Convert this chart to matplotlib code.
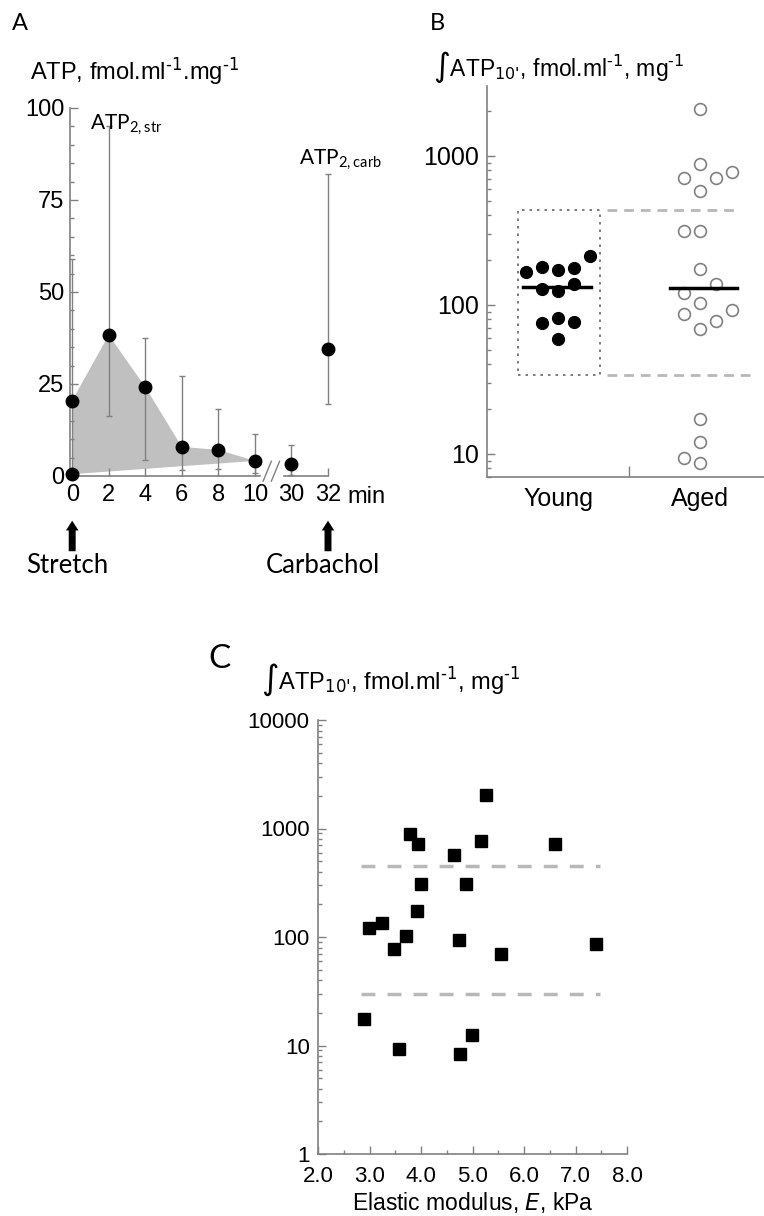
import matplotlib.pyplot as plt
import numpy as np
from matplotlib.ticker import MultipleLocator, FixedLocator, NullFormatter

plt.rcParams['font.family'] = ['Liberation Sans', 'DejaVu Sans']
plt.rcParams['mathtext.default'] = 'regular'

# panel A: ATP after stretch, time in min (axis broken between 10 and 30)
time_labels = ['0', '2', '4', '6', '8', '10', '30', '32']
time_pos = [0, 2, 4, 6, 8, 10, 12, 14]
atp_mean = [20.5, 38.3, 24.2, 7.9, 7.1, 4.1, 3.3, 34.5]
atp_upper = [59, 95, 37.5, 27.2, 18.2, 11.4, 8.4, 82]
atp_lower = [1.0, 16.3, 4.3, 1.6, 1.9, 0.8, 0.2, 19.6]
atp_baseline = 0.5   # value at t=0 before stretch

# panel B: integrated ATP, young vs aged
groups = ['Young', 'Aged']
young_vals = [166, 180, 172, 177, 213, 128, 124, 138, 76, 82, 77, 59]
young_slot = [-2, -1, 0, 1, 2, -1, 0, 1, -1, 0, 1, 0]
aged_vals = [2065, 883, 711, 711, 781, 582, 314, 314, 174, 138,
             120, 103, 87, 93, 78, 69, 17.2, 12.1, 9.4, 8.7]
aged_slot = [0, 0, -1, 1, 2, 0, -1, 0, 0, 1,
             -1, 0, -1, 2, 1, 0, 0, 0, -1, 0]
young_median = 132
aged_median = 130
young_hi, young_lo = 434, 34

# panel C: integrated ATP vs elastic modulus
modulus = [5.26, 3.79, 3.94, 5.17, 6.60, 4.64, 4.00, 4.87, 3.92, 2.99,
           3.24, 3.71, 3.48, 4.74, 5.55, 7.40, 2.89, 3.57, 4.76, 4.99]
atp_int = [2056, 899, 713, 775, 713, 575, 311, 311, 172, 122,
           136, 103, 78, 93, 70, 87, 17.4, 9.2, 8.4, 12.4]
c_hi, c_lo = 447, 30

W, H = 764, 1216
grey = '#808080'
fig = plt.figure(figsize=(W / 100, H / 100), dpi=100)


def px_axes(x0, y0, x1, y1):
    return fig.add_axes([x0 / W, 1 - y1 / H, (x1 - x0) / W, (y1 - y0) / H])


def style(ax, size):
    for s in ['top', 'right']:
        ax.spines[s].set_visible(False)
    for s in ['left', 'bottom']:
        ax.spines[s].set_color(grey)
        ax.spines[s].set_linewidth(1.2)
    ax.tick_params(which='both', direction='in', color=grey, width=1)
    ax.tick_params(which='major', length=6, labelsize=size, pad=6)
    ax.tick_params(which='minor', length=3)


int_title = "\u222bATP$_{\\text{10'}}$, fmol.ml$^{\\text{-1}}$, mg$^{\\text{-1}}$"

# ---------------- A ----------------
axA = px_axes(70, 108, 328, 476)
style(axA, 17)
axA.spines['bottom'].set_visible(False)
axA.set_xlim(-0.12, 14)
axA.set_ylim(0, 100)
axA.yaxis.set_major_locator(MultipleLocator(25))
axA.yaxis.set_minor_locator(MultipleLocator(5))
axA.xaxis.set_major_locator(FixedLocator(time_pos))
axA.set_xticklabels(time_labels)
axA.tick_params(axis='y', pad=4)

# shaded area under the first 10 min
poly_x = time_pos[:6] + [0]
poly_y = atp_mean[:6] + [atp_baseline]
axA.fill(poly_x, poly_y, color='#c0c0c0', lw=0, zorder=1)

yerr = [np.array(atp_mean) - np.array(atp_lower), np.array(atp_upper) - np.array(atp_mean)]
axA.errorbar(time_pos, atp_mean, yerr=yerr, fmt='none', ecolor=grey, elinewidth=1,
             capsize=2.5, capthick=1, zorder=2, clip_on=False)
axA.plot(time_pos, atp_mean, 'o', color='k', ms=9, zorder=3, clip_on=False)
axA.plot([0], [atp_baseline], 'o', color='k', ms=9, zorder=3, clip_on=False)

# broken x axis
axA.plot([-0.12, 10.3], [0, 0], color=grey, lw=1.2, clip_on=False)
axA.plot([11.6, 14], [0, 0], color=grey, lw=1.2, clip_on=False)
for x0 in (10.45, 10.9):
    axA.plot([x0, x0 + 0.45], [-1.4, 4], color=grey, lw=1, clip_on=False)

for tp in (time_pos[0], time_pos[-1]):
    axA.annotate('', xy=(tp, -11.4), xytext=(tp, -21.2), annotation_clip=False,
                 arrowprops=dict(arrowstyle='simple,head_length=0.7,head_width=0.9,tail_width=0.5',
                                 color='k', lw=0, mutation_scale=10))

axA.text(1.0, 98.8, r'ATP$_{2,str}$', fontsize=15, family='Lato', va='top')
axA.text(12.4, 82.5, r'ATP$_{2,carb}$', fontsize=15, family='Lato', va='bottom')

fig.text(12 / W, 1 - 30 / H, 'A', fontsize=17, family='Lato')
fig.text(30 / W, 1 - 80 / H, r'ATP, fmol.ml$^{\text{-1}}$.mg$^{\text{-1}}$', fontsize=17)
fig.text(347 / W, 1 - 503 / H, 'min', fontsize=17)
fig.text(26 / W, 1 - 573 / H, 'Stretch', fontsize=18.5, family='Lato')
fig.text(266 / W, 1 - 573 / H, 'Carbachol', fontsize=18.5, family='Lato')

# ---------------- B ----------------
axB = px_axes(487, 86, 764, 477)
style(axB, 18)
axB.set_yscale('log')
axB.set_ylim(7, 2950)
axB.set_xlim(0, 277 / 142)
axB.set_yticks([10, 100, 1000], labels=['10', '100', '1000'])
axB.yaxis.set_minor_locator(FixedLocator(
    [d * m for d in (1, 10, 100, 1000) for m in range(2, 10)]))
axB.yaxis.set_minor_formatter(NullFormatter())
axB.set_xticks([1])
axB.set_xticklabels([''])
axB.set_xticks([0.5, 1.5], minor=True)
axB.set_xticklabels(groups, minor=True)
axB.tick_params(axis='x', which='minor', length=0, labelsize=18, pad=7)
axB.tick_params(axis='x', which='major', length=8)

slot_w = 16 / 142
axB.plot(0.5 + np.array(young_slot) * slot_w, young_vals, 'o', color='k', ms=8.5, zorder=3)
axB.plot(1.5 + np.array(aged_slot) * slot_w, aged_vals, 'o', mfc='white', mec=grey,
         mew=1.2, ms=8.5, zorder=3)
axB.plot([0.5 - 0.25, 0.5 + 0.23], [young_median] * 2, color='k', lw=2.5, zorder=4)
axB.plot([1.5 - 0.21, 1.5 + 0.26], [aged_median] * 2, color='k', lw=2.5, zorder=4)

bx0, bx1 = 31 / 142, 113 / 142
axB.plot([bx0, bx1, bx1, bx0, bx0], [young_lo, young_lo, young_hi, young_hi, young_lo],
         color='#666666', lw=1.2, ls=(0, (1.5, 3)), zorder=2)
axB.plot([bx1 + 0.05, 1.76], [young_hi] * 2, color='#b8b8b8', lw=2, dashes=(3.5, 2.5), zorder=1)
axB.plot([bx1 + 0.05, 1.87], [young_lo] * 2, color='#b8b8b8', lw=2, dashes=(3.5, 2.5), zorder=1)

fig.text(430 / W, 1 - 30 / H, 'B', fontsize=17, family='Lato')
fig.text(433 / W, 1 - 76 / H, int_title, fontsize=16.5)

# ---------------- C ----------------
axC = px_axes(318, 720, 627, 1154)
style(axC, 16)
axC.set_yscale('log')
axC.set_ylim(1, 10000)
axC.set_xlim(2, 8)
axC.set_yticks([1, 10, 100, 1000, 10000], labels=['1', '10', '100', '1000', '10000'])
axC.yaxis.set_minor_locator(FixedLocator(
    [d * m for d in (1, 10, 100, 1000) for m in range(2, 10)]))
axC.yaxis.set_minor_formatter(NullFormatter())
axC.xaxis.set_major_locator(MultipleLocator(1))
axC.xaxis.set_minor_locator(MultipleLocator(0.5))
axC.set_xticklabels(['%.1f' % v for v in axC.get_xticks()])
axC.tick_params(axis='x', pad=8.5)
axC.plot(modulus, atp_int, 's', color='k', ms=9, zorder=3)
axC.plot([2.83, 7.48], [c_hi] * 2, color='#b8b8b8', lw=2.5, dashes=(4, 3.5), zorder=1)
axC.plot([2.83, 7.48], [c_lo] * 2, color='#b8b8b8', lw=2.5, dashes=(4, 3.5), zorder=1)
axC.set_xlabel(r'Elastic modulus, $\mathit{E}$, kPa', fontsize=16.5, labelpad=2)

fig.text(208 / W, 1 - 668 / H, 'C', fontsize=24, family='Lato')
fig.text(261 / W, 1 - 689 / H, int_title, fontsize=17)

fig.savefig('out.png', dpi=100)
